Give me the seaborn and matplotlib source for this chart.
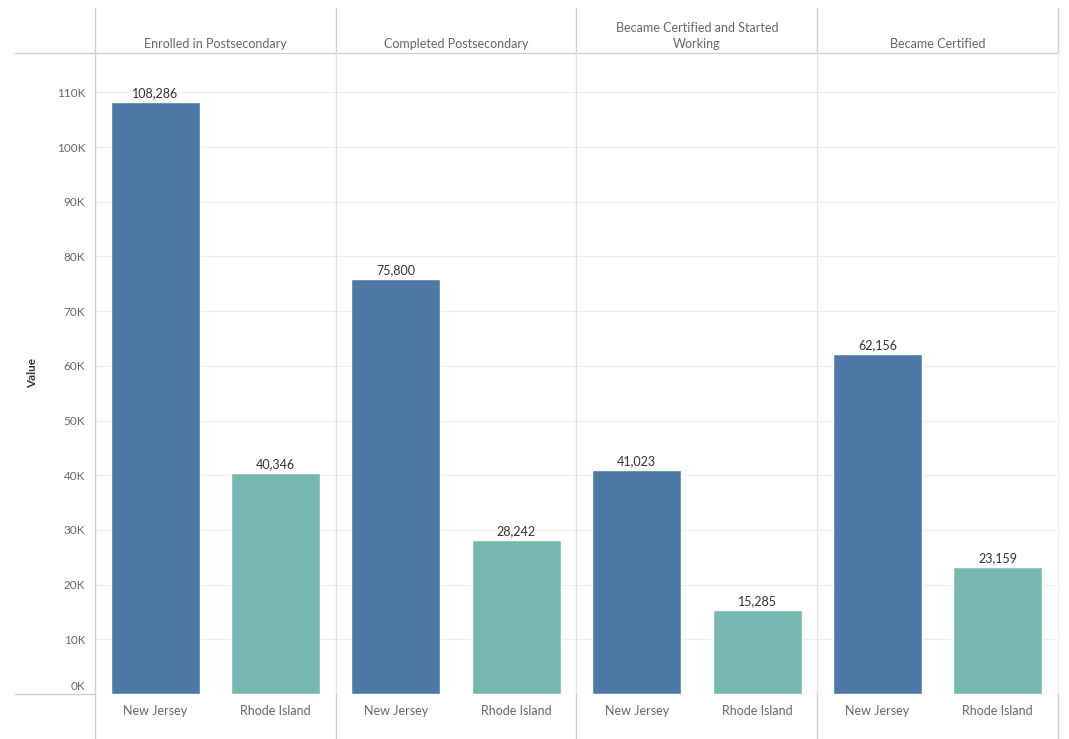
import matplotlib
matplotlib.use("Agg")
import matplotlib.pyplot as plt
from matplotlib.lines import Line2D
from matplotlib.transforms import ScaledTranslation
import seaborn as sns

# ---- data ----
stages = ["Enrolled in Postsecondary", "Completed Postsecondary",
          "Became Certified and Started\nWorking", "Became Certified"]
states = ["New Jersey", "Rhode Island"]
new_jersey = [108286, 75800, 41023, 62156]
rhode_island = [40346, 28242, 15285, 23159]
y_ticks = [0, 10000, 20000, 30000, 40000, 50000, 60000, 70000, 80000, 90000, 100000, 110000]
y_tick_labels = ["0K", "10K", "20K", "30K", "40K", "50K", "60K", "70K", "80K", "90K", "100K", "110K"]
colors = {"New Jersey": "#4E79A7", "Rhode Island": "#76B7B2"}

sns.set_theme(style="white")
plt.rcParams['font.family'] = ['Lato', 'DejaVu Sans']

W, H = 1069, 739
fig = plt.figure(figsize=(W / 100, H / 100), dpi=100)

def fx(x):
    return x / W

def fy(y):
    return 1 - y / H

left_px, right_px = 95, 1058
top_px, bottom_px = 53, 694
panel_w = (right_px - left_px) / 4
text_gray = "#666666"

axes = []
for i, stage in enumerate(stages):
    x0 = left_px + i * panel_w
    ax = fig.add_axes([fx(x0), fy(bottom_px), panel_w / W, (bottom_px - top_px) / H])
    vals = [new_jersey[i], rhode_island[i]]
    sns.barplot(x=states, y=vals, hue=states, palette=colors, width=0.74,
                ax=ax, legend=False, saturation=1)
    ax.set_xlim(-0.5, 1.5)
    ax.set_ylim(0, 117200)
    ax.set_yticks(y_ticks)
    ax.yaxis.grid(True, color="#efefef", linewidth=0.8)
    ax.set_axisbelow(True)
    for s in ax.spines.values():
        s.set_visible(False)
    ax.tick_params(axis="x", length=0, pad=8, labelsize=9, labelcolor=text_gray)
    if i == 0:
        ax.set_yticklabels(y_tick_labels)
        ax.tick_params(axis="y", length=0, pad=7, labelsize=8.5, labelcolor=text_gray)
        ax.set_ylabel("Value", fontsize=8.5, fontweight="bold", color="#333333")
        ax.yaxis.set_label_coords((38 - left_px) / panel_w, 0.5)
        zero_lbl = ax.get_yticklabels()[0]
        zero_lbl.set_transform(zero_lbl.get_transform() +
                               ScaledTranslation(0, 8 / 100, fig.dpi_scale_trans))
    else:
        ax.tick_params(axis="y", length=0, labelleft=False)
        ax.set_ylabel("")
    ax.set_xlabel("")
    for cont in ax.containers:
        ax.bar_label(cont, labels=[f"{v:,.0f}" for v in cont.datavalues],
                     padding=2, fontsize=9, color="#333333")
    # header text
    fig.text(fx(x0 + panel_w / 2), fy(48), stage, ha="center", va="baseline",
             fontsize=9, color=text_gray, linespacing=1.45)
    axes.append(ax)

# ---- frame lines (Tableau-like) ----
def line(x1, y1, x2, y2, color, lw=1.0):
    fig.add_artist(Line2D([fx(x1), fx(x2)], [fy(y1), fy(y2)], color=color,
                          linewidth=lw, transform=fig.transFigure))

line(15, top_px, right_px, top_px, "#cfcfcf")
line(15, bottom_px, left_px, bottom_px, "#cfcfcf")
line(left_px, 8, left_px, H, "#d0d0d0")
for k in range(1, 4):
    xs = left_px + k * panel_w
    line(xs, 8, xs, top_px, "#d0d0d0")
    line(xs, top_px, xs, bottom_px, "#e4e4e4")
    line(xs, bottom_px, xs, H, "#d0d0d0")
line(right_px, 8, right_px, top_px, "#d0d0d0")
line(right_px, top_px, right_px, bottom_px, "#f0f0f0")
line(right_px, bottom_px, right_px, H, "#d0d0d0")

fig.savefig("out.png", dpi=100)
